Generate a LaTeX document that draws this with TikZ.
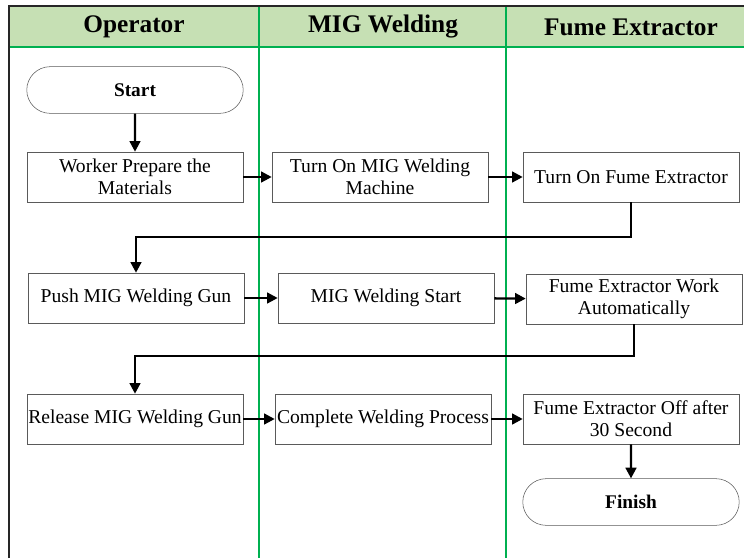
\documentclass[tikz,border=0pt]{standalone}
\usepackage{fontspec}
\setmainfont{Liberation Serif}
\usetikzlibrary{shapes.misc,arrows.meta}
\definecolor{laneline}{RGB}{0,176,80}
\definecolor{headfill}{RGB}{198,224,180}
\definecolor{boxline}{RGB}{90,90,90}

\tikzset{
	process/.style={rectangle,draw=boxline,fill=white,minimum width=162pt,minimum height=37.5pt,align=center,inner sep=0.5pt,font=\fontsize{14.7}{16.5}\selectfont},
	terminal/.style={rounded rectangle,draw=boxline,fill=white,minimum width=169pt,minimum height=35pt,font=\fontsize{14.5}{16}\selectfont\bfseries},
	lanehead/.style={font=\fontsize{19}{22}\selectfont\bfseries},
	flow/.style={draw=black,line width=1.8pt,-{Triangle[length=8pt,width=8pt]}}
}

\begin{document}
\begin{tikzpicture}[x=0.75pt,y=-0.75pt]
	\useasboundingbox (0,0) rectangle (744,558);

	% swimlane frame
	\fill[headfill] (9,6) rectangle (744,47);
	\draw[laneline,line width=1.2pt] (9,47) -- (744,47);
	\draw[laneline,line width=1.2pt] (259,6) -- (259,558);
	\draw[laneline,line width=1.2pt] (506,6) -- (506,558);
	\draw[black!85,line width=1.5pt] (9,558) -- (9,6) -- (744,6);

	\node[lanehead] (hop) at (134,27) {Operator};
	\node[lanehead] (hmig) at (383,27) {MIG Welding};
	\node[lanehead] (hfume) at (631,27) {Fume Extractor};

	% steps
	\node[terminal] (start) at (135,90) {Start};
	\node[process] (prep) at (135,177) {Worker Prepare the\\Materials};
	\node[process] (mon) at (380,177) {Turn On MIG Welding\\Machine};
	\node[process] (fon) at (631,177) {Turn On Fume Extractor};

	\node[process] (push) at (136,298) {Push MIG Welding Gun};
	\node[process] (mstart) at (386,298) {MIG Welding Start};
	\node[process] (fwork) at (634,299) {Fume Extractor Work\\Automatically};

	\node[process] (release) at (135,419) {Release MIG Welding Gun};
	\node[process] (complete) at (383,419) {Complete Welding Process};
	\node[process] (foff) at (631,419) {Fume Extractor Off after\\30 Second};
	\node[terminal] (finish) at (631,502) {Finish};

	% connectors
	\draw[flow] (start) -- (prep);
	\draw[flow] (prep) -- (mon);
	\draw[flow] (mon) -- (fon);
	\draw[flow] (fon.south) -- ++(0,35) -| (push.north);
	\draw[flow] (push) -- (mstart);
	\draw[flow] (mstart) -- (fwork);
	\draw[flow] (fwork.south) -- ++(0,32) -| (release.north);
	\draw[flow] (release) -- (complete);
	\draw[flow] (complete) -- (foff);
	\draw[flow] (foff) -- (finish);
\end{tikzpicture}
\end{document}
